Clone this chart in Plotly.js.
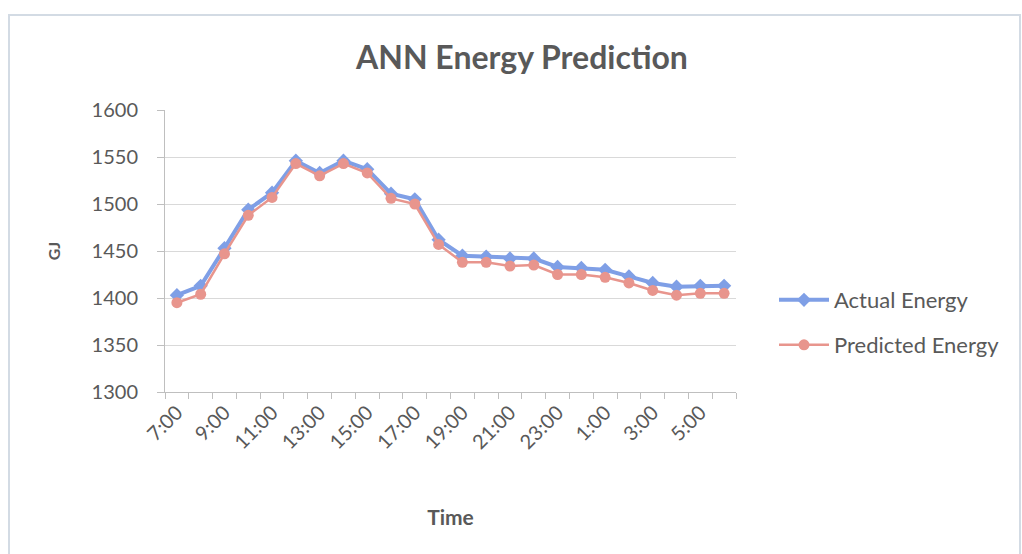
<!DOCTYPE html>
<html>
<head>
<meta charset="utf-8">
<script src="https://cdn.plot.ly/plotly-3.0.1.min.js"></script>
<style>
  html, body { margin: 0; padding: 0; background: #ffffff; }
  #chart { width: 1022px; height: 554px; }
</style>
</head>
<body>
<div id="chart"></div>
<script>
// Hourly time slots, 7:00 through 6:00 the next morning
const hours = ["7:00", "8:00", "9:00", "10:00", "11:00", "12:00", "13:00", "14:00",
  "15:00", "16:00", "17:00", "18:00", "19:00", "20:00", "21:00", "22:00",
  "23:00", "0:00", "1:00", "2:00", "3:00", "4:00", "5:00", "6:00"];

// Energy in GJ
const actualEnergy = [1403, 1413, 1453, 1494, 1512, 1546, 1533, 1546, 1537, 1511, 1505, 1462,
  1445, 1444, 1442, 1442, 1433, 1432, 1430, 1423, 1416, 1412, 1413, 1413];
const predictedEnergy = [1395, 1404, 1447, 1488, 1507, 1543, 1530, 1543, 1533, 1506, 1500, 1457,
  1438, 1438, 1434, 1435, 1425, 1425, 1422, 1416, 1408, 1403, 1405, 1405];

// Every other hour gets a label
const labelStep = 2;

const idx = hours.map((_, i) => i);
const tickIdx = idx.filter(i => i % labelStep === 0);
const tickText = tickIdx.map(i => hours[i]);

const FONT = "Lato, 'Open Sans', sans-serif";
const TEXT = "#595959";

const traces = [
  {
    x: idx, y: actualEnergy, customdata: hours,
    name: "Actual Energy", type: "scatter", mode: "lines+markers",
    line: { color: "#7f9fe6", width: 4 },
    marker: { symbol: "diamond", size: 11, color: "#7f9fe6" },
    legend: "legend"
  },
  {
    x: idx, y: predictedEnergy, customdata: hours,
    name: "Predicted Energy", type: "scatter", mode: "lines+markers",
    line: { color: "#e8958d", width: 2.5 },
    marker: { symbol: "circle", size: 11, color: "#e8958d" },
    legend: "legend2"
  }
];

const W = 1022, H = 554;
const L = 165, R = 736, T = 110, B = 392;
const pw = R - L, ph = B - T;
const px = v => (v - L) / pw;
const py = v => (B - v) / ph;

const legendStyle = {
  xanchor: "left", yanchor: "middle", itemwidth: 50,
  bgcolor: "rgba(0,0,0,0)", font: { family: FONT, size: 22, color: TEXT }
};

const layout = {
  width: W, height: H,
  margin: { l: L, r: W - R, t: T, b: H - B, pad: 0 },
  paper_bgcolor: "#ffffff",
  plot_bgcolor: "#ffffff",
  font: { family: FONT, color: TEXT, size: 20 },
  title: {
    text: "<b>ANN Energy Prediction</b>",
    font: { family: FONT, size: 32, color: TEXT },
    xref: "container", yref: "container",
    x: 522 / W, y: 1 - 58 / H, xanchor: "center", yanchor: "middle"
  },
  xaxis: {
    range: [-0.5, hours.length - 0.5],
    tickmode: "array", tickvals: tickIdx, ticktext: tickText,
    tickangle: -45,
    ticks: "",
    minor: { ticks: "outside", tick0: -0.5, dtick: 1, ticklen: 6, tickcolor: "#bfbfbf", showgrid: false },
    showgrid: false, zeroline: false,
    showline: true, linecolor: "#bfbfbf", linewidth: 1,
    tickfont: { family: FONT, size: 20, color: TEXT },
    title: { text: "<b>Time</b>", font: { family: FONT, size: 21, color: TEXT }, standoff: 58 }
  },
  yaxis: {
    range: [1300, 1600], dtick: 50, tick0: 1300,
    ticks: "outside", ticklen: 7, tickcolor: "#bfbfbf",
    ticklabelstandoff: 15,
    showgrid: true, gridcolor: "#d9d9d9", gridwidth: 1,
    zeroline: false,
    showline: true, linecolor: "#bfbfbf", linewidth: 1,
    tickfont: { family: FONT, size: 20, color: TEXT },
    title: { text: "<b>GJ</b>", font: { family: FONT, size: 16, color: TEXT }, standoff: 26 }
  },
  showlegend: true,
  legend: Object.assign({ x: px(774), y: py(300) }, legendStyle),
  legend2: Object.assign({ x: px(774), y: py(345) }, legendStyle),
  shapes: [
    {
      type: "rect", xref: "paper", yref: "paper",
      x0: px(9), x1: px(1020), y0: py(570), y1: py(15),
      line: { color: "#d3dbe4", width: 2 }, fillcolor: "rgba(0,0,0,0)", layer: "below"
    }
  ]
};

Plotly.newPlot("chart", traces, layout, { displayModeBar: false, staticPlot: true });
</script>
</body>
</html>
